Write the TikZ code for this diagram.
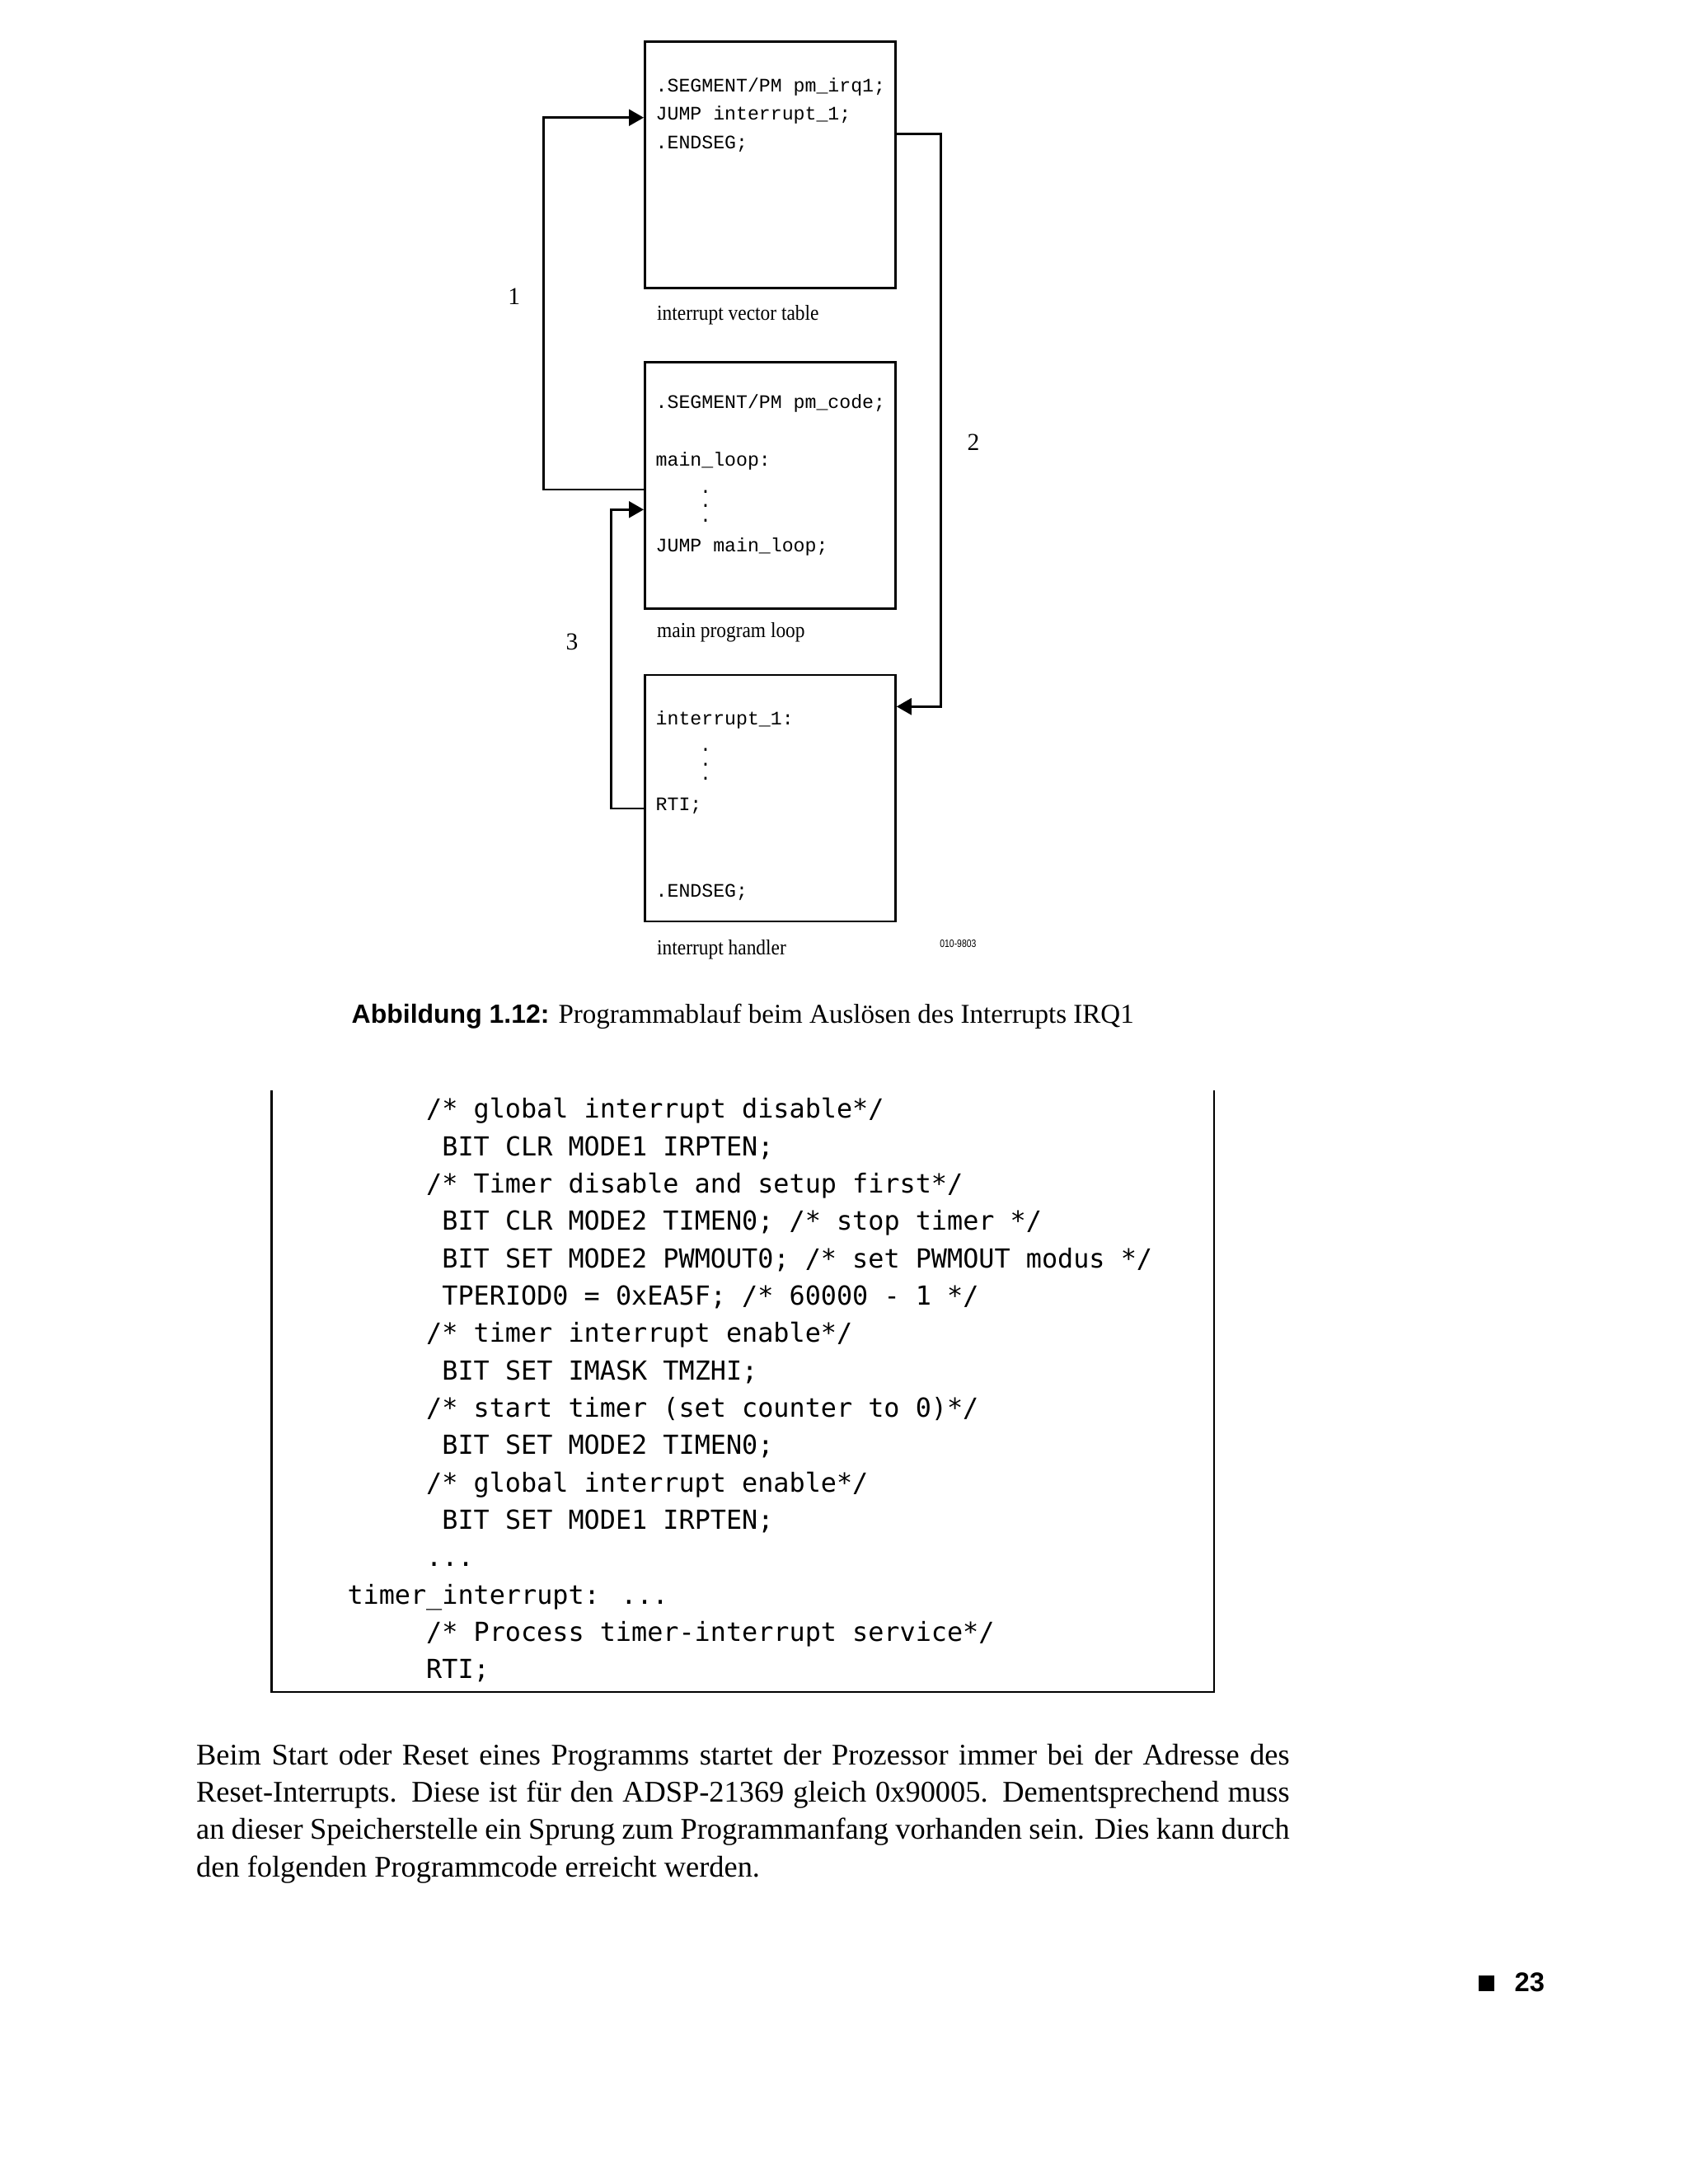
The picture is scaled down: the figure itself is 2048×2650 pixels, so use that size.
\documentclass[tikz,border=0pt]{standalone}
\usepackage{fontspec}
\setmainfont{Liberation Serif}
\newfontfamily\codefont{Liberation Mono}
\newfontfamily\lstfont{DejaVu Sans Mono}
\newfontfamily\capfont{Liberation Sans}
\newfontfamily\labelfont[FakeStretch=0.9]{Liberation Serif}
\newfontfamily\idfont[FakeStretch=0.8]{Liberation Sans}
\usetikzlibrary{positioning,arrows.meta}

\begin{document}
\begin{tikzpicture}[
    x=0.1mm, y=-0.1mm,
    memblock/.style={rectangle, draw, line width=0.8pt, minimum width=30.4mm, minimum height=29.9mm, inner sep=0pt},
    code/.style={anchor=base west, inner sep=0pt, font=\codefont\fontsize{6.6pt}{8pt}\selectfont},
    dots/.style={anchor=north, inner sep=0pt, align=center, font=\codefont\fontsize{6.6pt}{5.03pt}\selectfont},
    blocklabel/.style={anchor=base west, inner sep=0pt, font=\labelfont\fontsize{7.4pt}{9pt}\selectfont},
    num/.style={inner sep=0pt, font=\fontsize{8.4pt}{10pt}\selectfont},
    lst/.style={anchor=base west, inner sep=0pt, font=\lstfont\fontsize{9.05pt}{11pt}\selectfont},
    para/.style={anchor=base west, inner sep=0pt, font=\fontsize{10.35pt}{12.8pt}\selectfont},
    link/.style={line width=0.7pt},
    arrow/.style={link, -{Triangle[length=1.8mm, width=2mm]}}
]
\useasboundingbox (0,0) rectangle (2048,2650);

% memory blocks
\node[memblock, anchor=north west] (ivt) at (781,49) {};
\node[memblock, below=8.72mm of ivt] (mainloop) {};
\node[memblock, below=7.78mm of mainloop] (handler) {};

\node[code] (irqseg) at (795,111.7) {.SEGMENT/PM pm\_irq1;};
\node[code] (irqjump) at (795,145.7) {JUMP interrupt\_1;};
\node[code] (irqend) at (795,180) {.ENDSEG;};
\node[blocklabel] (ivtlabel) at (796.5,388.3) {interrupt vector table};

\node[code] (codeseg) at (795,495) {.SEGMENT/PM pm\_code;};
\node[code] (looplabel) at (795,565) {main\_loop:};
\node[dots] (loopdots) at (856,594) {.\\.\\.};
\node[code] (loopjump) at (795,669.3) {JUMP main\_loop;};
\node[blocklabel] (looptext) at (796.5,773.3) {main program loop};

\node[code] (isrlabel) at (795,879.3) {interrupt\_1:};
\node[dots] (isrdots) at (856,907.4) {.\\.\\.};
\node[code] (isrrti) at (795,983.3) {RTI;};
\node[code] (isrend) at (795,1088.3) {.ENDSEG;};
\node[blocklabel] (handlertext) at (796.5,1158.3) {interrupt handler};
\node[anchor=base west, inner sep=0pt, font=\idfont\fontsize{3.7pt}{4pt}\selectfont] (figid) at (1139.7,1149.3) {010-9803};

% program flow
\draw[arrow] (mainloop.west |- 0,594) -- (659.3,594) |- (ivt.west |- 0,142.7);
\draw[arrow] (ivt.east |- 0,162.3) -- (1141.7,162.3) |- (handler.east |- 0,857.3);
\draw[arrow] (handler.west |- 0,981) -- (741.6,981) |- (mainloop.west |- 0,618.3);
\node[num] (step1) at (623.7,360) {1};
\node[num] (step2) at (1181,536.7) {2};
\node[num] (step3) at (694,779.3) {3};

% caption
\node[anchor=base west, inner sep=0pt, font=\fontsize{9.4pt}{11pt}\selectfont] (caption) at (426,1241)
    {{\capfont\bfseries\fontsize{9.1pt}{11pt}\selectfont Abbildung 1.12:} Programmablauf beim Auslösen des Interrupts IRQ1};

% listing
\draw[link] (329.5,1323) -- (329.5,2053) -- (1473,2053) -- (1473,1323);
\node[lst] (l1) at (516.5,1356.7) {/* global interrupt disable*/};
\node[lst] (l2) at (535.7,1402.0) {BIT CLR MODE1 IRPTEN;};
\node[lst] (l3) at (516.5,1447.4) {/* Timer disable and setup first*/};
\node[lst] (l4) at (535.7,1492.7) {BIT CLR MODE2 TIMEN0; /* stop timer */};
\node[lst] (l5) at (535.7,1538.0) {BIT SET MODE2 PWMOUT0; /* set PWMOUT modus */};
\node[lst] (l6) at (535.7,1583.4) {TPERIOD0 = 0xEA5F; /* 60000 - 1 */};
\node[lst] (l7) at (516.5,1628.7) {/* timer interrupt enable*/};
\node[lst] (l8) at (535.7,1674.0) {BIT SET IMASK TMZHI;};
\node[lst] (l9) at (516.5,1719.3) {/* start timer (set counter to 0)*/};
\node[lst] (l10) at (535.7,1764.7) {BIT SET MODE2 TIMEN0;};
\node[lst] (l11) at (516.5,1810.0) {/* global interrupt enable*/};
\node[lst] (l12) at (535.7,1855.3) {BIT SET MODE1 IRPTEN;};
\node[lst] (l13) at (516.5,1900.7) {...};
\node[lst] (l14) at (420.8,1946.0) {timer\_interrupt: ...};
\node[lst] (l15) at (516.5,1991.3) {/* Process timer-interrupt service*/};
\node[lst] (l16) at (516.5,2036.7) {RTI;};

% body text
\node[para] (p1) at (237.5,2141.7) {\makebox[132.65mm][s]{Beim Start oder Reset eines Programms startet der Prozessor immer bei der Adresse des}};
\node[para] (p2) at (237.5,2186.8) {\makebox[132.65mm][s]{Reset-Interrupts. Diese ist für den ADSP-21369 gleich 0x90005. Dementsprechend muss}};
\node[para] (p3) at (237.5,2231.9) {\makebox[132.65mm][s]{an dieser Speicherstelle ein Sprung zum Programmanfang vorhanden sein. Dies kann durch}};
\node[para] (p4) at (237.5,2277.0) {den folgenden Programmcode erreicht werden.};

% page number
\node[fill, minimum size=1.9mm, inner sep=0pt] (pgmark) at (1803.5,2406.5) {};
\node[anchor=base west, inner sep=0pt, font=\capfont\bfseries\fontsize{9.3pt}{11pt}\selectfont] (pgnum) at (1837,2416.7) {23};
\end{tikzpicture}
\end{document}
